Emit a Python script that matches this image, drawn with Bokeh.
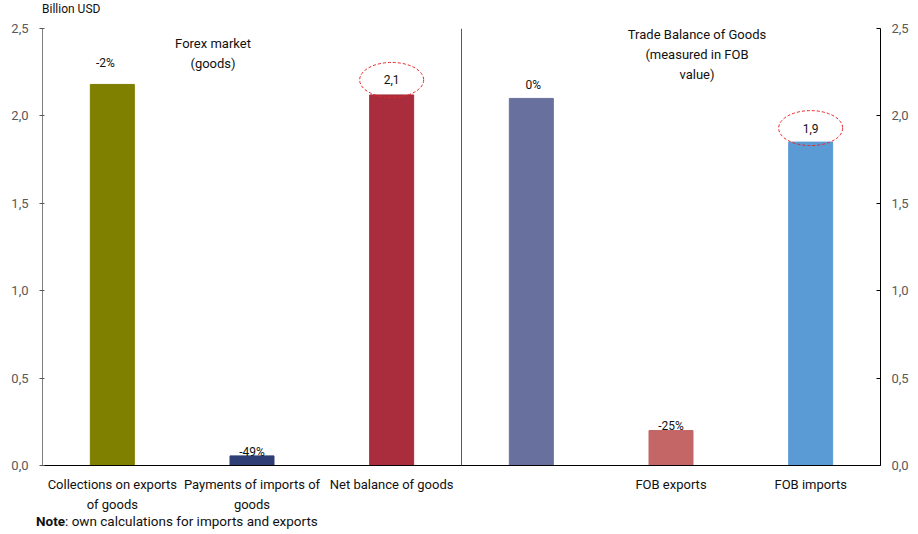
from bokeh.plotting import figure
from bokeh.models import (ColumnDataSource, LinearAxis, Span, FixedTicker, Div,
                          CustomJSTickFormatter, Range1d)
from bokeh.layouts import column
from bokeh.core.properties import value
from bokeh.embed import file_html
from bokeh.resources import INLINE

# ---- data ----
categories = ["Collections on exports of goods", "Payments of imports of goods",
              "Net balance of goods", "Trade balance", "FOB exports", "FOB imports"]
tick_labels = ["Collections on exports\nof goods", "Payments of imports of\ngoods",
               "Net balance of goods", "", "FOB exports", "FOB imports"]
values = [2.18, 0.055, 2.12, 2.10, 0.20, 1.85]
bar_labels = ["-2%", "-49%", "2,1", "0%", "-25%", "1,9"]
colors = ["#7f7f00", "#2f3f75", "#a92d3c", "#68719d", "#c46666", "#5b9bd5"]
label_lift = [21, 4, 15, 13, 5, 14]          # px above bar top (style)
label_shift = [-7, 0, 0, 2, 0, 0]            # px sideways (style)
circled_idx = [2, 5]
circled_lift = [15, 14]
y_ticks = [0.0, 0.5, 1.0, 1.5, 2.0, 2.5]

FONT = "Roboto"

TOP_H = 17
BL, BR, BT, BB = 42, 30, 11, 50
frame_w, frame_h = 838, 437
ymax = 2.5
ppu = frame_h / ymax

xs = [i + 0.5 for i in range(len(categories))]

p = figure(frame_width=frame_w, frame_height=frame_h, x_range=Range1d(0, len(categories)),
           y_range=Range1d(0, ymax), output_backend="svg", toolbar_location=None,
           min_border_left=BL, min_border_right=BR, min_border_top=BT, min_border_bottom=BB)
p.outline_line_color = None
p.xgrid.grid_line_color = None
p.ygrid.grid_line_color = None
p.background_fill_color = "white"

src = ColumnDataSource(dict(x=xs, top=values, color=colors, lab=bar_labels,
                            off=[-v for v in label_lift], dx=label_shift))
p.vbar(x="x", top="top", width=0.315, color="color", source=src)
p.text(x="x", y="top", text="lab", y_offset="off", x_offset="dx", source=src,
       text_align="center", text_baseline="middle", text_font=value(FONT),
       text_font_size="12px", text_color="#111111")

ecx = [xs[i] for i in circled_idx]
ecy = [values[i] + l / ppu for i, l in zip(circled_idx, circled_lift)]
p.ellipse(x=ecx, y=ecy, width=64, height=35, width_units="screen", height_units="screen",
          fill_color=None, line_color="#e8262a", line_dash="3 2", line_width=1)

# group titles inside the plot
p.text(x=[xs[1]], y=[ymax], text=["Forex market\n(goods)"],
       x_offset=[-39], y_offset=[25], text_align="center", text_baseline="middle",
       text_font=value(FONT), text_font_size="13px", text_color="#111111",
       text_line_height=1.35)
p.text(x=[xs[4]], y=[ymax], text=["Trade Balance of Goods\n(measured in FOB\nvalue)"],
       x_offset=[26], y_offset=[26], text_align="center", text_baseline="middle",
       text_font=value(FONT), text_font_size="13px", text_color="#111111",
       text_line_height=1.35)

# divider between the two groups
p.add_layout(Span(location=3, dimension="height", line_color="#595959", line_width=1))

# axes
fmt = CustomJSTickFormatter(code="return tick.toFixed(1).replace('.', ',')")
ya = p.yaxis[0]
ya.ticker = FixedTicker(ticks=y_ticks)
ya.formatter = fmt
ya.axis_line_color = "#7f7f7f"
ya.major_tick_line_color = "#595959"
ya.major_tick_out = 3
ya.major_tick_in = 2
ya.minor_tick_line_color = None
ya.minor_tick_out = 0
ya.major_label_text_font = FONT
ya.major_label_text_font_size = "13px"
ya.major_label_text_color = "#595959"
ya.major_label_standoff = 11

ra = LinearAxis(formatter=fmt, ticker=FixedTicker(ticks=y_ticks))
ra.axis_line_color = "#000000"
ra.major_tick_line_color = "#000000"
ra.major_tick_out = 0
ra.major_tick_in = 4
ra.minor_tick_line_color = None
ra.minor_tick_out = 0
ra.major_label_text_font = FONT
ra.major_label_text_font_size = "13px"
ra.major_label_text_color = "#595959"
ra.major_label_standoff = 11
p.add_layout(ra, "right")

xa = p.xaxis[0]
xa.ticker = FixedTicker(ticks=xs)
xa.major_label_overrides = dict(zip(xs, tick_labels))
xa.axis_line_color = "#000000"
xa.major_tick_line_color = None
xa.major_tick_out = 0
xa.major_tick_in = 0
xa.minor_tick_line_color = None
xa.minor_tick_out = 0
xa.major_label_text_font = FONT
xa.major_label_text_font_size = "13px"
xa.major_label_text_line_height = 1.38
xa.major_label_text_color = "#111111"
xa.major_label_standoff = 11

W = BL + frame_w + BR
unit = Div(text="Billion USD", width=W - BL, height=TOP_H, margin=(0, 0, 0, BL),
           styles={"font-family": FONT, "font-size": "12px", "line-height": "19px",
                   "color": "#111111", "white-space": "nowrap"})
note = Div(text="<b>Note</b>: own calculations for imports and exports",
           width=W - 36, height=11, margin=(0, 0, 0, 36),
           styles={"font-family": FONT, "font-size": "13.5px", "line-height": "12px",
                   "color": "#111111", "white-space": "nowrap"})

open("out.html", "w").write(file_html(column(unit, p, note, spacing=0), INLINE))
